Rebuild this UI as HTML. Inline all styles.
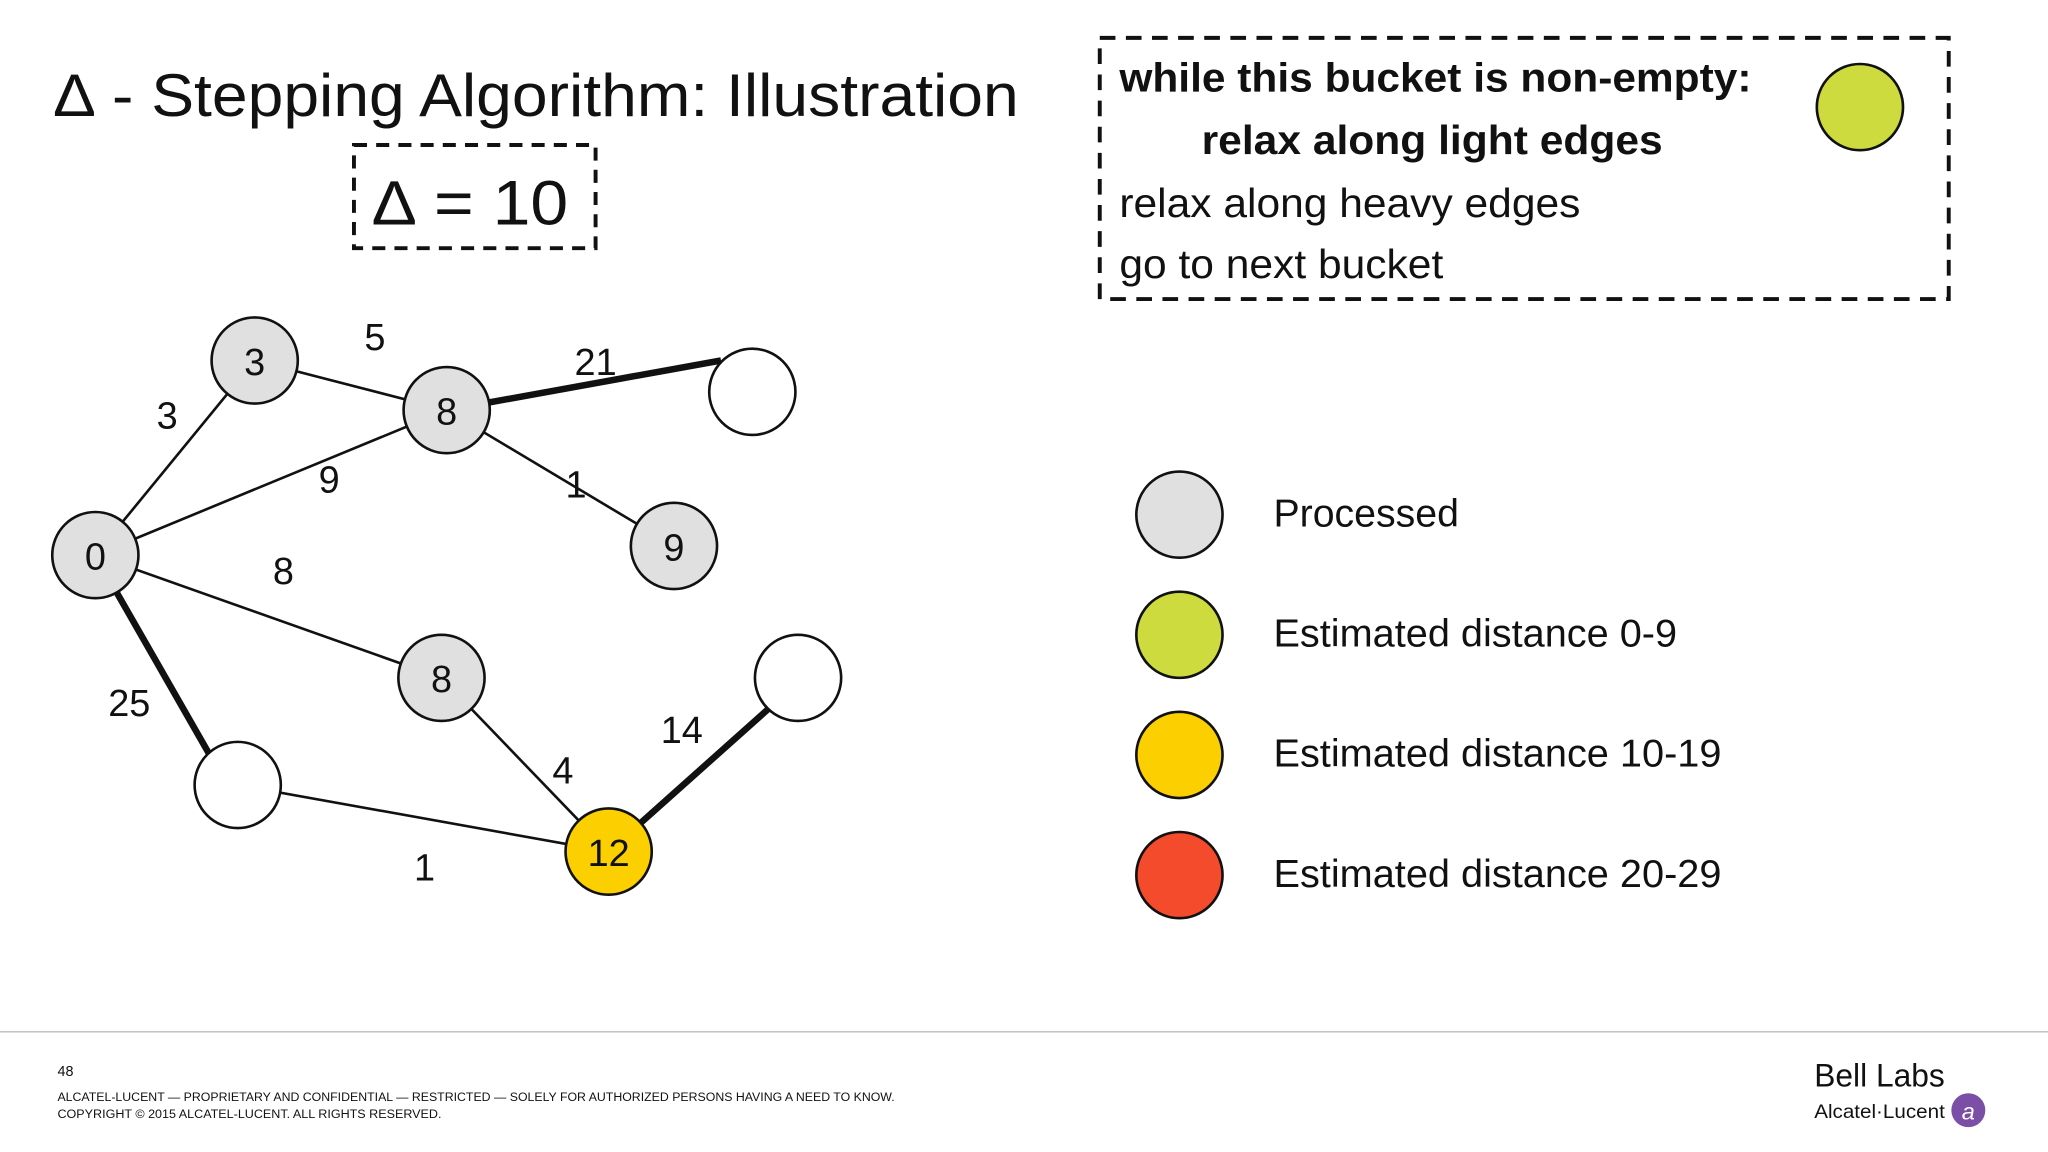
<!DOCTYPE html>
<html><head><meta charset="utf-8"><style>
html,body{margin:0;padding:0;background:#fff;}
svg{display:block;}
text{font-family:"Liberation Sans",sans-serif;fill:#111;}
</style></head><body>
<svg width="2048" height="1152" viewBox="0 0 1568 882" xmlns="http://www.w3.org/2000/svg">
<text x="42" y="89" font-size="46" textLength="738" lengthAdjust="spacingAndGlyphs">∆ - Stepping Algorithm: Illustration</text>
<rect x="271" y="111" width="185" height="79" fill="none" stroke="#111" stroke-width="3" stroke-dasharray="10,7"/>
<text x="286" y="172" font-size="48" textLength="149" lengthAdjust="spacingAndGlyphs">∆ = 10</text>
<rect x="842" y="29" width="650" height="200" fill="none" stroke="#111" stroke-width="3" stroke-dasharray="12,8"/>
<text x="857" y="70" font-size="31" font-weight="bold" textLength="484" lengthAdjust="spacingAndGlyphs">while this bucket is non-empty:</text>
<text x="920" y="118" font-size="31" font-weight="bold" textLength="353" lengthAdjust="spacingAndGlyphs">relax along light edges</text>
<text x="857" y="166" font-size="31" textLength="353" lengthAdjust="spacingAndGlyphs">relax along heavy edges</text>
<text x="857" y="213" font-size="31" textLength="248" lengthAdjust="spacingAndGlyphs">go to next bucket</text>
<circle cx="1424" cy="82" r="33" fill="#cddb3e" stroke="#111" stroke-width="2"/>
<g stroke="#111" stroke-width="2">
<line x1="73" y1="425" x2="195" y2="276"/>
<line x1="195" y1="276" x2="342" y2="314"/>
<line x1="73" y1="425" x2="342" y2="314"/>
<line x1="342" y1="314" x2="516" y2="418"/>
<line x1="73" y1="425" x2="338" y2="519"/>
<line x1="182" y1="601" x2="466" y2="652"/>
<line x1="338" y1="519" x2="466" y2="652"/>
</g>
<g stroke="#111" stroke-width="5">
<line x1="342" y1="314" x2="552" y2="276"/>
<line x1="73" y1="425" x2="160" y2="577"/>
<line x1="466" y1="652" x2="588" y2="543"/>
</g>
<g stroke="#111" stroke-width="2">
<circle cx="195" cy="276" r="33" fill="#e0e0e0"/>
<circle cx="342" cy="314" r="33" fill="#e0e0e0"/>
<circle cx="576" cy="300" r="33" fill="#fff"/>
<circle cx="516" cy="418" r="33" fill="#e0e0e0"/>
<circle cx="73" cy="425" r="33" fill="#e0e0e0"/>
<circle cx="338" cy="519" r="33" fill="#e0e0e0"/>
<circle cx="611" cy="519" r="33" fill="#fff"/>
<circle cx="182" cy="601" r="33" fill="#fff"/>
<circle cx="466" cy="652" r="33" fill="#fcd000"/>
</g>
<g font-size="29" text-anchor="middle">
<text x="195" y="287">3</text><text x="342" y="325">8</text><text x="516" y="429">9</text>
<text x="73" y="436">0</text><text x="338" y="530">8</text><text x="466" y="663">12</text>
<text x="287" y="268">5</text><text x="456" y="287">21</text><text x="128" y="328">3</text>
<text x="252" y="377">9</text><text x="441" y="381">1</text><text x="217" y="447">8</text>
<text x="99" y="548">25</text><text x="522" y="569">14</text><text x="431" y="600">4</text>
<text x="325" y="674">1</text>
</g>
<g stroke="#111" stroke-width="2">
<circle cx="903" cy="394" r="33" fill="#e0e0e0"/>
<circle cx="903" cy="486" r="33" fill="#cddb3e"/>
<circle cx="903" cy="578" r="33" fill="#fcd000"/>
<circle cx="903" cy="670" r="33" fill="#f44b2c"/>
</g>
<g font-size="30">
<text x="975" y="403" textLength="142" lengthAdjust="spacingAndGlyphs">Processed</text>
<text x="975" y="495" textLength="309" lengthAdjust="spacingAndGlyphs">Estimated distance 0-9</text>
<text x="975" y="587" textLength="343" lengthAdjust="spacingAndGlyphs">Estimated distance 10-19</text>
<text x="975" y="679" textLength="343" lengthAdjust="spacingAndGlyphs">Estimated distance 20-29</text>
</g>
<line x1="0" y1="790" x2="1568" y2="790" stroke="#bbb" stroke-width="1"/>
<text x="44" y="824" font-size="11">48</text>
<text x="44" y="843" font-size="9.5" fill="#444" textLength="641" lengthAdjust="spacingAndGlyphs">ALCATEL-LUCENT — PROPRIETARY AND CONFIDENTIAL — RESTRICTED — SOLELY FOR AUTHORIZED PERSONS HAVING A NEED TO KNOW.</text>
<text x="44" y="856" font-size="9.5" fill="#444" textLength="294" lengthAdjust="spacingAndGlyphs">COPYRIGHT © 2015 ALCATEL-LUCENT. ALL RIGHTS RESERVED.</text>
<text x="1389" y="832" font-size="25" textLength="100" lengthAdjust="spacingAndGlyphs">Bell Labs</text>
<text x="1389" y="856" font-size="15" textLength="100" lengthAdjust="spacingAndGlyphs">Alcatel·Lucent</text>
<circle cx="1507" cy="850" r="13" fill="#7b4fa5"/>
<text x="1507" y="857" font-size="18" font-style="italic" text-anchor="middle" style="fill:#fff">a</text>
</svg>
</body></html>
